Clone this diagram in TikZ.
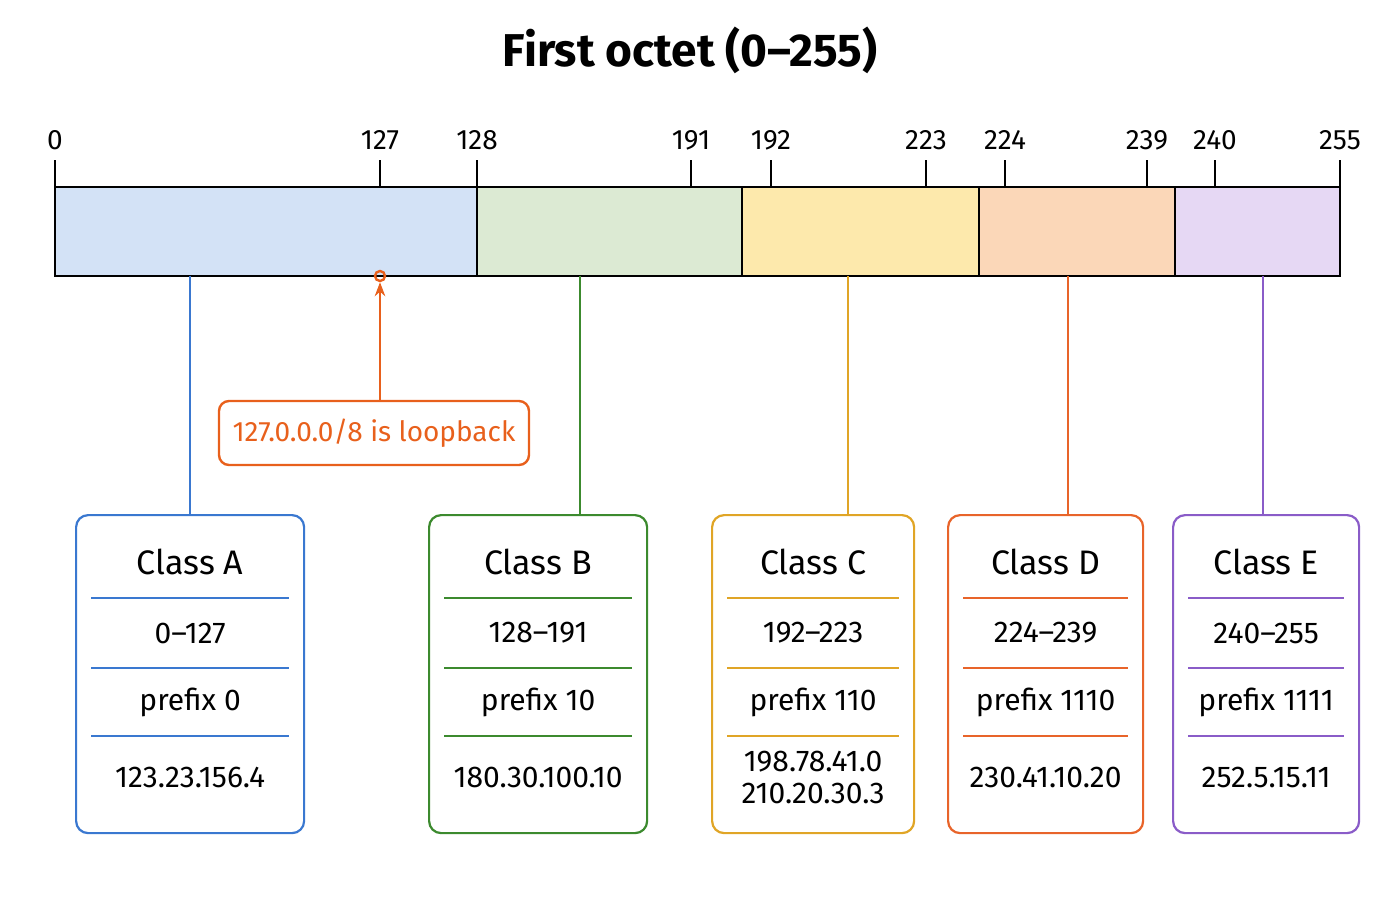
\documentclass[tikz,border=0pt]{standalone}
\usepackage{fontspec}
\setmainfont{Fira Sans}
\usetikzlibrary{arrows.meta,calc}
\definecolor{clsA}{HTML}{3A78D0}
\definecolor{clsB}{HTML}{3C8A2E}
\definecolor{clsC}{HTML}{E0A526}
\definecolor{clsD}{HTML}{E8642A}
\definecolor{clsE}{HTML}{8A5CC8}
\definecolor{fillA}{HTML}{D3E2F6}
\definecolor{fillB}{HTML}{DCEAD3}
\definecolor{fillC}{HTML}{FDE9AC}
\definecolor{fillD}{HTML}{FBD7B8}
\definecolor{fillE}{HTML}{E6D8F4}
\definecolor{loopclr}{HTML}{E8601C}
\tikzset{
  tick/.style={line width=1.2pt},
  ticklabel/.style={font=\fontsize{14}{16}\selectfont, anchor=south},
  classbox/.style={draw=#1, line width=1.1pt, rounded corners=6pt, anchor=north west},
  row/.style={font=\fontsize{15}{16}\selectfont, align=center},
  rowtitle/.style={font=\fontsize{17}{20}\selectfont},
}
\begin{document}
\begin{tikzpicture}[x=0.5pt,y=-0.5pt]
\useasboundingbox (0,0) rectangle (1400,900);
\node[font=\fontsize{23}{26}\selectfont\bfseries] (title) at (690,50) {First octet (0--255)};
% bar segments
\fill[fillA] (55,187) rectangle (477,276);
\fill[fillB] (477,187) rectangle (742,276);
\fill[fillC] (742,187) rectangle (979,276);
\fill[fillD] (979,187) rectangle (1175,276);
\fill[fillE] (1175,187) rectangle (1340,276);
\draw[line width=1.3pt] (55,187) rectangle (1340,276);
\foreach \x in {477,742,979,1175} \draw[line width=1.3pt] (\x,187) -- (\x,276);
% ticks
\foreach \x/\v in {55/0,380/127,477/128,691/191,771/192,926/223,1005/224,1147/239,1215/240,1340/255}{
  \draw[tick] (\x,160) -- (\x,187);
  \node[ticklabel] at (\x,157) {\v};
}
% class boxes
\foreach \n/\l/\r/\lx/\rng/\pre/\ex in {
  A/75/303/190/0--127/prefix 0/123.23.156.4,
  B/428/646/580/128--191/prefix 10/180.30.100.10,
  C/711/913/848/192--223/prefix 110/{198.78.41.0\\210.20.30.3},
  D/947/1142/1068/224--239/prefix 1110/230.41.10.20,
  E/1172/1358/1263/240--255/prefix 1111/252.5.15.11}{
  \pgfmathsetmacro{\w}{(\r-\l)*0.5}
  \node[classbox=cls\n, minimum width=\w pt, minimum height=159pt] (box\n) at (\l,514) {};
  \coordinate (bar\n) at (\lx,276);
  \draw[cls\n, line width=1.1pt] (bar\n) -- (bar\n |- box\n.north);
  \node[rowtitle] (title\n) at ($(box\n.north)+(0,48)$) {Class \n};
  \node[row] (range\n) at ($(box\n.north)+(0,119)$) {\rng};
  \node[row] (prefix\n) at ($(box\n.north)+(0,188)$) {\pre};
  \node[row] (ex\n) at ($(box\n.north)+(0,263)$) {\ex};
  \foreach \yy in {84,154,222}
    \draw[cls\n, line width=0.7pt] ($(box\n.north west)+(16,\yy)$) -- ($(box\n.north east)+(-16,\yy)$);
}
% loopback note
\node[draw=loopclr, line width=1.2pt, rounded corners=5pt, text=loopclr, minimum width=155pt, minimum height=32pt,
  font=\fontsize{14}{16}\selectfont] (note) at (374,433) {127.0.0.0/8 is loopback};
\node[draw=loopclr, circle, line width=1.2pt, inner sep=0pt, minimum size=5pt] (loopdot) at (380,276) {};
\draw[draw=loopclr, line width=1.3pt, -{Stealth[length=7pt]}] (note.north -| loopdot) -- (loopdot.south);
\end{tikzpicture}
\end{document}
